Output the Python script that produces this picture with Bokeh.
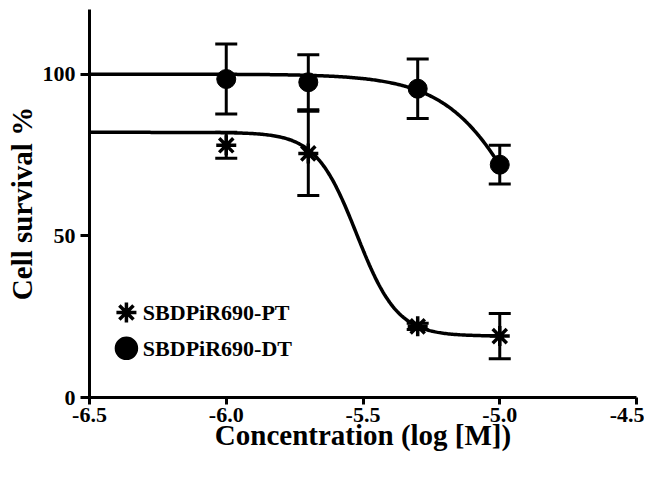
import numpy as np
from bokeh.plotting import figure
from bokeh.models import ColumnDataSource, Whisker, TeeHead, FixedTicker, Range1d
from bokeh.core.properties import value
from bokeh.embed import file_html
from bokeh.resources import INLINE

# ---- data ----
conc = [-6.0, -5.7, -5.3, -5.0]
pt_mean = [78.0, 75.5, 22.0, 19.0]
pt_err = [4.0, 13.0, 1.0, 7.0]
dt_mean = [98.5, 97.5, 95.5, 72.0]
dt_err = [10.8, 8.5, 9.2, 6.0]

# fitted dose-response parameters (top, bottom, logIC50, hill)
pt_fit = [82.0, 19.0, -5.523, 5.83]
dt_fit = [100.0, 0.0, -4.86, 2.9]
fit_range = [-6.5, -5.0]

x_ticks = [-6.5, -6.0, -5.5, -5.0, -4.5]
x_tick_labels = ["-6.5", "-6.0", "-5.5", "-5.0", "-4.5"]
y_ticks = [0, 50, 100]

# legend (placed inside the plot, lower left)
legend_labels = ["SBDPiR690-PT", "SBDPiR690-DT"]
legend_markers = ["asterisk", "circle"]
legend_marker_x = -6.365
legend_text_x = -6.305
legend_y = [26.3, 15.2]

FONT = "Liberation Serif"

def hill(x, top, bottom, logc, h):
    return bottom + (top - bottom) / (1.0 + 10 ** ((x - logc) * h))

p = figure(width=644, height=461, output_backend="svg", toolbar_location=None,
           x_range=Range1d(-6.5, -4.5), y_range=Range1d(0, 120),
           min_border_left=89, min_border_right=8, min_border_top=9, min_border_bottom=64)
p.outline_line_color = None
p.xgrid.visible = False
p.ygrid.visible = False
p.background_fill_color = "white"

xs = np.linspace(fit_range[0], fit_range[1], 300)
p.line(xs, hill(xs, *pt_fit), line_color="black", line_width=3.5)
p.line(xs, hill(xs, *dt_fit), line_color="black", line_width=3.5)

for mean, err in ((pt_mean, pt_err), (dt_mean, dt_err)):
    m = np.array(mean); e = np.array(err)
    src = ColumnDataSource(dict(x=conc, lo=m - e, hi=m + e))
    w = Whisker(source=src, base="x", lower="lo", upper="hi", dimension="height",
                line_color="black", line_width=3,
                upper_head=TeeHead(size=22, line_width=3, line_color="black"),
                lower_head=TeeHead(size=22, line_width=3, line_color="black"))
    p.add_layout(w)

p.scatter(conc, pt_mean, marker="asterisk", size=20, line_color="black", line_width=3.5)
p.scatter(conc, dt_mean, marker="circle", size=19, fill_color="black", line_color="black")

# legend drawn as marks + text
p.scatter([legend_marker_x] * 2, legend_y, marker=legend_markers,
          size=[20, 20], line_color="black", fill_color="black", line_width=3.5)
p.text([legend_text_x] * 2, legend_y, text=legend_labels,
       text_font=value(FONT), text_font_style="bold", text_font_size="22px",
       text_color="black", text_baseline="middle", text_align="left")

for ax in (p.xaxis[0], p.yaxis[0]):
    ax.axis_line_width = 3
    ax.major_tick_line_width = 3
    ax.major_tick_in = 0
    ax.minor_tick_line_color = None
    ax.major_label_text_font = FONT
    ax.major_label_text_font_style = "bold"
    ax.major_label_text_font_size = "22px"
    ax.major_label_text_color = "black"
    ax.axis_label_text_font = FONT
    ax.axis_label_text_font_style = "bold"
    ax.axis_label_text_font_size = "29px"
    ax.axis_label_text_color = "black"

p.xaxis.ticker = FixedTicker(ticks=x_ticks)
p.xaxis.major_label_overrides = {t: l for t, l in zip(x_ticks, x_tick_labels)}
p.xaxis.axis_label = "Concentration (log [M])"
p.xaxis.major_tick_out = 7
p.xaxis.major_label_standoff = 3
p.xaxis.axis_label_standoff = -6
p.yaxis.ticker = FixedTicker(ticks=y_ticks)
p.yaxis.axis_label = "Cell survival %"
p.yaxis.major_tick_out = 9
p.yaxis.major_label_standoff = 5
p.yaxis.axis_label_standoff = 2

open("out.html", "w").write(file_html(p, INLINE))
